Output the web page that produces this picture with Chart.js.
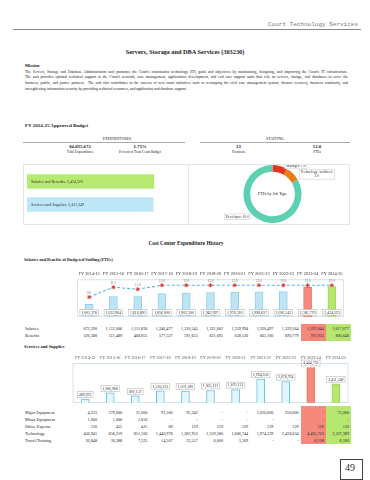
<!DOCTYPE html>
<html>
<head>
<meta charset="utf-8">
<script src="https://cdn.jsdelivr.net/npm/chart.js@4.4.1/dist/chart.umd.min.js"></script>
<style>
body{margin:0;width:370px;height:480px;background:#fff;position:relative;overflow:hidden;font-family:"Liberation Serif","Times New Roman",serif;color:#222}
.t{position:absolute;white-space:nowrap;line-height:1}
.b{font-weight:bold}
.c{transform:translateX(-50%)}
.p{position:absolute;left:25px;width:323px;line-height:1;font-size:3.8px;text-align:justify;text-align-last:justify}
.rule{position:absolute;height:0;border-top:1px solid #9a9a9a}
canvas{position:absolute}
</style>
</head>
<body>
<div class="t" style="right:12px;top:22px;font-family:'Liberation Mono',monospace;font-size:6px;color:#777">Court Technology Services</div>
<div class="rule" style="left:13px;top:29px;width:348px;border-color:#888"></div>
<div class="t b c" style="left:185px;top:48.5px;font-size:6.3px">Servers, Storage and DBA Services (303230)</div>

<div class="t b" style="left:25px;top:64px;font-size:4.3px">Mission</div>
<div class="p" style="top:70.8px">The Servers, Storage and Database Administration unit promotes the Court's information technology (IT) goals and objectives by maintaining, designing, and improving the Court's IT infrastructure.</div>
<div class="p" style="top:76.4px">The unit provides optimal technical support in the Court's network, case management, applications development, and end user support units that rely on servers, storage, and databases to serve the</div>
<div class="p" style="top:82px">business, public, and justice partners.&nbsp; The unit also contributes to the success of new court initiatives such as revamping the civil case management system, disaster recovery, business continuity, and</div>
<div class="p" style="top:87.6px;text-align-last:left">strengthening information security by providing technical resources, and application and database support.</div>

<div class="t b" style="left:25px;top:123.3px;font-size:5px">FY 2024-25 Approved Budget</div>

<div class="t c" style="left:117px;top:138px;font-size:3.8px">EXPENDITURES</div>
<div class="rule" style="left:23px;top:142px;width:162px;border-color:#aaa"></div>
<div class="t b c" style="left:80px;top:145px;font-size:4.8px">$4,835,672</div>
<div class="t c" style="left:80px;top:150.7px;font-size:3.5px">Total Expenditures</div>
<div class="t b c" style="left:140px;top:145px;font-size:4.8px">1.73%</div>
<div class="t c" style="left:140px;top:150.7px;font-size:3.5px">Percent of Total Court Budget</div>

<div class="t c" style="left:275px;top:138px;font-size:3.8px">STAFFING</div>
<div class="rule" style="left:200px;top:142px;width:150px;border-color:#aaa"></div>
<div class="t b c" style="left:238.5px;top:145px;font-size:4.8px">13</div>
<div class="t c" style="left:238.5px;top:150.7px;font-size:3.5px">Positions</div>
<div class="t b c" style="left:317px;top:145px;font-size:4.8px">12.0</div>
<div class="t c" style="left:317px;top:150.7px;font-size:3.5px">FTEs</div>

<div style="position:absolute;left:23px;top:164px;width:325px;height:59px;border:1px solid #dde7ec"></div>
<div style="position:absolute;left:188px;top:164px;width:0;height:60px;border-left:1px solid #dde7ec"></div>
<canvas id="budgetChart" width="163" height="58" style="left:24px;top:165px"></canvas>
<canvas id="fteChart" width="158" height="58" style="left:190px;top:165px"></canvas>

<div class="t b c" style="left:186px;top:241px;font-size:5.3px">Cost Center Expenditure History</div>
<div class="t b" style="left:24px;top:257.5px;font-size:4.2px">Salaries and Benefits of Budgeted Staffing (FTEs)</div>

<div style="position:absolute;left:300.6px;top:324px;width:25.2px;height:17px;background:#f4897c"></div>
<div style="position:absolute;left:325.8px;top:324px;width:25px;height:17px;background:#b6e870"></div>
<canvas id="staffChart" width="277" height="54" style="left:72px;top:268px"></canvas>

<div class="t b" style="left:24px;top:344.5px;font-size:4.4px">Services and Supplies</div>
<div style="position:absolute;left:300.6px;top:406px;width:25.2px;height:38px;background:#f4897c"></div>
<div style="position:absolute;left:325.8px;top:406px;width:25px;height:38px;background:#b6e870"></div>
<canvas id="servChart" width="277" height="51" style="left:72px;top:352px"></canvas>

<div id="tables"></div>

<div style="position:absolute;left:340px;top:459px;width:21px;height:19px;border:1px solid #444"></div>
<div class="t" style="left:345px;top:463px;font-size:10px;color:#333">49</div>

<script>
// Data
const fiscalYears = ['FY 2014-15', 'FY 2015-16', 'FY 2016-17', 'FY 2017-18', 'FY 2018-19', 'FY 2019-20',
    'FY 2020-21', 'FY 2021-22', 'FY 2022-23', 'FY 2023-24', 'FY 2024-25'];
const staffingTotals = [1005378, 1632964, 1616690, 1856000, 1902200, 1942997, 1976318, 1998657, 2020543, 2385779, 2424323];
const fteCounts = [9.0, 11.5, 11.0, 12.0, 12.0, 12.0, 12.0, 12.0, 12.0, 12.0, 12.0];
const salaries = [672590, 1112006, 1111836, 1246477, 1310545, 1321602, 1359994, 1320497, 1329564, 1592844, 1617677];
const benefits = [326588, 511489, 468855, 577527, 591655, 621095, 658526, 665160, 690779, 792935, 806646];

const servicesTotals = [489072, 1266968, 892137, 1536225, 1501500, 1565121, 1670121, 2994358, 2678794, 4444753, 2411349];
const majorEquipment = [4233, 379000, 31000, 91500, 95342, 0, 0, 1020000, 250000, 0, 75000];
const minorEquipment = [1000, 1000, 2650, 0, 0, 0, 0, 0, 0, 0, 0];
const officeExpense = [130, 415, 415, 69, 129, 129, 129, 129, 129, 129, 130];
const technology = [456941, 856219, 851500, 1440978, 1362952, 1559580, 1666744, 1974229, 2428634, 4435723, 2327389];
const travelTraining = [26848, 30288, 7525, 14507, 23557, 6000, 3209, 0, 0, 8138, 8180];

const budgetCategories = ['Salaries and Benefits', 'Services and Supplies'];
const budgetAmounts = [2424323, 2411349];

const jobTypes = ['Manager', 'Technology Architect', 'Developer'];
const jobFtes = [1.0, 1.0, 10.0];

const SERIF = '"Liberation Serif", "Times New Roman", serif';
const fmt = v => v === 0 ? '-' : v.toLocaleString('en-US');

Chart.defaults.font.family = SERIF;
Chart.defaults.color = '#333';
Chart.defaults.animation = false;
Chart.defaults.plugins.legend.display = false;
Chart.defaults.plugins.tooltip.enabled = false;

// highlight the last two years like the report does
const yearColor = (i, base) => i === 9 ? '#f4897c' : i === 10 ? '#b6e870' : base;
const yearBorder = (i, base) => i === 9 ? '#e97565' : i === 10 ? '#9bd454' : base;

// little helper: box with text centered at x,y
function boxText(ctx, text, x, y, size) {
    ctx.font = size + 'px ' + SERIF;
    const w = ctx.measureText(text).width + 3;
    const h = size + 2;
    ctx.fillStyle = '#fff';
    ctx.fillRect(x - w / 2, y - h / 2, w, h);
    ctx.strokeStyle = '#b9b9b9';
    ctx.lineWidth = 0.6;
    ctx.strokeRect(x - w / 2, y - h / 2, w, h);
    ctx.fillStyle = '#333';
    ctx.textAlign = 'center';
    ctx.textBaseline = 'middle';
    ctx.fillText(text, x, y + 0.3);
}

const plotBox = {
    id: 'plotBox',
    beforeDatasetsDraw(chart) {
        const a = chart.chartArea;
        const ctx = chart.ctx;
        ctx.save();
        ctx.strokeStyle = '#d3e4eb';
        ctx.lineWidth = 1;
        ctx.strokeRect(a.left + 0.5, a.top + 0.5, a.right - a.left - 1, a.bottom - a.top - 1);
        ctx.restore();
    }
};

// 1. Approved budget split (left panel)
new Chart(document.getElementById('budgetChart'), {
    type: 'bar',
    data: {
        labels: budgetCategories,
        datasets: [{
            data: budgetAmounts,
            backgroundColor: ['#b6ea70', '#bde7f6'],
            borderWidth: 0,
            barThickness: 14
        }]
    },
    options: {
        indexAxis: 'y',
        responsive: false,
        devicePixelRatio: 1,
        layout: { padding: { left: 3, right: 3, top: 5, bottom: 7 } },
        scales: {
            x: { display: false, min: 0, max: 3000000 },
            y: { display: false }
        }
    },
    plugins: [{
        id: 'inlineLabels',
        afterDatasetsDraw(chart) {
            const ctx = chart.ctx;
            ctx.save();
            ctx.font = '4px ' + SERIF;
            ctx.fillStyle = '#333';
            ctx.textBaseline = 'middle';
            chart.getDatasetMeta(0).data.forEach((bar, i) => {
                ctx.fillText(budgetCategories[i] + ': ' + fmt(budgetAmounts[i]), bar.base + 4, bar.y);
            });
            ctx.restore();
        }
    }]
});

// 2. FTEs by job type doughnut
new Chart(document.getElementById('fteChart'), {
    type: 'doughnut',
    data: {
        labels: jobTypes,
        datasets: [{
            data: jobFtes,
            backgroundColor: ['#e4351f', '#ea7b16', '#5dd0b2'],
            borderWidth: 0
        }]
    },
    options: {
        responsive: false,
        devicePixelRatio: 1,
        cutout: '77%',
        layout: { padding: { left: 7, right: 0, top: 0, bottom: 0 } }
    },
    plugins: [{
        id: 'callouts',
        afterDraw(chart) {
            const ctx = chart.ctx;
            ctx.save();
            chart.getDatasetMeta(0).data.forEach((arc, i) => {
                const p = arc.getProps(['x', 'y', 'startAngle', 'endAngle', 'outerRadius'], true);
                const mid = (p.startAngle + p.endAngle) / 2;
                const ax = p.x + Math.cos(mid) * (p.outerRadius + 3);
                const ay = p.y + Math.sin(mid) * (p.outerRadius + 3);
                const lines = jobTypes[i].length > 10
                    ? [jobTypes[i] + ':', jobFtes[i].toFixed(1)]
                    : [jobTypes[i] + ': ' + jobFtes[i].toFixed(1)];
                ctx.font = '3.6px ' + SERIF;
                const w = Math.max(...lines.map(l => ctx.measureText(l).width)) + 3;
                const h = lines.length * 4 + 1.5;
                const right = Math.cos(mid) >= 0;
                const bx = right ? ax + 4 : ax - w - 6;
                const by = right ? ay + 2 - h / 2 + 1 : ay - 5 - h / 2;
                ctx.fillStyle = '#fff';
                ctx.fillRect(bx, by, w, h);
                ctx.strokeStyle = '#c4c4c4';
                ctx.lineWidth = 0.5;
                ctx.strokeRect(bx, by, w, h);
                ctx.fillStyle = '#333';
                ctx.textAlign = 'center';
                ctx.textBaseline = 'middle';
                lines.forEach((l, k) => ctx.fillText(l, bx + w / 2, by + 2.8 + k * 4));
            });
            const c = chart.getDatasetMeta(0).data[0];
            ctx.font = '4px ' + SERIF;
            ctx.fillStyle = '#222';
            ctx.textAlign = 'center';
            ctx.textBaseline = 'middle';
            ctx.fillText('FTEs by Job Type', c.x, c.y);
            ctx.restore();
        }
    }]
});

// 3. Salaries and benefits with FTE line
new Chart(document.getElementById('staffChart'), {
    type: 'bar',
    data: {
        labels: fiscalYears,
        datasets: [
            {
                type: 'line',
                data: fteCounts,
                yAxisID: 'y1',
                borderColor: '#55b4dc',
                borderWidth: 1.1,
                borderDash: [3, 2],
                pointStyle: 'star',
                pointRadius: 2,
                pointBorderColor: '#e0392e',
                pointBackgroundColor: '#e0392e',
                pointBorderWidth: 1,
                order: 0
            },
            {
                data: staffingTotals,
                yAxisID: 'y',
                backgroundColor: staffingTotals.map((v, i) => yearColor(i, '#bde5f4')),
                borderColor: staffingTotals.map((v, i) => yearBorder(i, '#93cfe6')),
                borderWidth: 1,
                barThickness: 8,
                order: 1
            }
        ]
    },
    options: {
        responsive: false,
        devicePixelRatio: 1,
        layout: { padding: 0 },
        scales: {
            x: {
                position: 'top',
                grid: { display: false, drawTicks: false },
                border: { display: false },
                ticks: { font: { size: 4.4 }, color: '#333', padding: 3, autoSkip: false, maxRotation: 0 }
            },
            y: { display: false, min: 0, max: 3000000 },
            y1: { display: false, min: 4, max: 13.5 }
        }
    },
    plugins: [plotBox, {
        id: 'staffLabels',
        afterDatasetsDraw(chart) {
            const ctx = chart.ctx;
            ctx.save();
            chart.getDatasetMeta(1).data.forEach((bar, i) => {
                boxText(ctx, fmt(staffingTotals[i]), bar.x, chart.chartArea.bottom - 4.5, 3.9);
            });
            ctx.font = '3.4px ' + SERIF;
            ctx.fillStyle = '#777';
            ctx.textAlign = 'center';
            chart.getDatasetMeta(0).data.forEach((pt, i) => {
                ctx.fillText(fteCounts[i].toFixed(1), pt.x, pt.y - 4);
            });
            ctx.restore();
        }
    }]
});

// 4. Services and supplies
new Chart(document.getElementById('servChart'), {
    type: 'bar',
    data: {
        labels: fiscalYears,
        datasets: [{
            data: servicesTotals,
            backgroundColor: servicesTotals.map((v, i) => yearColor(i, '#e2f6fc')),
            borderColor: servicesTotals.map((v, i) => yearBorder(i, '#6ec0e0')),
            borderWidth: 1,
            barThickness: 8
        }]
    },
    options: {
        responsive: false,
        devicePixelRatio: 1,
        layout: { padding: 0 },
        scales: {
            x: {
                position: 'top',
                grid: { display: false, drawTicks: false },
                border: { display: false },
                ticks: { font: { size: 4.2 }, color: '#555', padding: 3, autoSkip: false, maxRotation: 0 }
            },
            y: { display: false, min: 0, max: 5000000 }
        }
    },
    plugins: [plotBox, {
        id: 'servLabels',
        afterDatasetsDraw(chart) {
            const ctx = chart.ctx;
            ctx.save();
            chart.getDatasetMeta(0).data.forEach((bar, i) => {
                boxText(ctx, fmt(servicesTotals[i]), bar.x, bar.y - 4.5, 3.9);
            });
            ctx.restore();
        }
    }]
});

// Tables under the charts
const colLeft = 73.8, colW = 25.2;
function buildTable(rows, top, rowH) {
    const host = document.getElementById('tables');
    rows.forEach(([label, values], r) => {
        const y = top + r * rowH;
        const lab = document.createElement('div');
        lab.className = 't';
        lab.style.cssText = `left:25px;top:${y}px;font-size:4.2px`;
        lab.textContent = label;
        host.appendChild(lab);
        values.forEach((v, i) => {
            const d = document.createElement('div');
            d.className = 't';
            d.style.cssText = `left:${colLeft + i * colW}px;top:${y}px;width:${colW - 2}px;text-align:right;font-size:4.2px`;
            d.textContent = fmt(v);
            host.appendChild(d);
        });
    });
}
buildTable([['Salaries', salaries], ['Benefits', benefits]], 326.5, 7);
buildTable([
    ['Major Equipment', majorEquipment],
    ['Minor Equipment', minorEquipment],
    ['Office Expense', officeExpense],
    ['Technology', technology],
    ['Travel/Training', travelTraining]
], 410.5, 7);
</script>
</body>
</html>
